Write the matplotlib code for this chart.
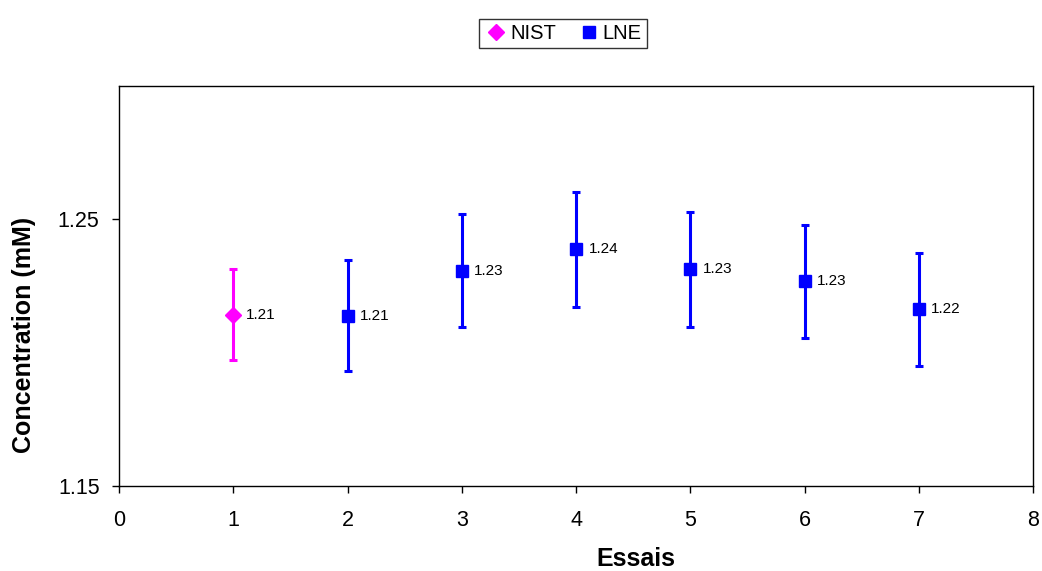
import matplotlib
matplotlib.use("Agg")
import matplotlib.pyplot as plt
from matplotlib.lines import Line2D

plt.rcParams['font.family'] = ['Liberation Sans', 'DejaVu Sans']

nist_x = [1]
nist_y = [1.2143]
nist_err = [0.0169]
nist_labels = ["1.21"]

lne_x = [2, 3, 4, 5, 6, 7]
lne_y = [1.2139, 1.2308, 1.2387, 1.2312, 1.2267, 1.2162]
lne_err = [0.0207, 0.0212, 0.0214, 0.0214, 0.0212, 0.0212]
lne_labels = ["1.21", "1.23", "1.24", "1.23", "1.23", "1.22"]

fig = plt.figure(figsize=(10.42, 5.71), dpi=100)
ax = fig.add_axes([0.1142, 0.1489, 0.8772, 0.7005])

ax.errorbar(nist_x, nist_y, yerr=nist_err, fmt='D', color='#FF00FF', ms=8,
            elinewidth=2.2, capsize=3, capthick=2.2, zorder=3)
ax.errorbar(lne_x, lne_y, yerr=lne_err, fmt='s', color='#0000FF', ms=8,
            elinewidth=2.2, capsize=3, capthick=2.2, zorder=3)

for x, y, t in zip(nist_x, nist_y, nist_labels):
    ax.annotate(t, (x, y), xytext=(9, 0), textcoords='offset points',
                va='center', ha='left', fontsize=11)
for x, y, t in zip(lne_x, lne_y, lne_labels):
    ax.annotate(t, (x, y), xytext=(9, 0), textcoords='offset points',
                va='center', ha='left', fontsize=11)

ax.set_xlim(0, 8)
ax.set_ylim(1.15, 1.30)
ax.set_xticks(range(0, 9))
ax.set_yticks([1.15, 1.25])
ax.set_yticklabels(["1.15", "1.25"])
ax.tick_params(direction='out', length=5, labelsize=15.5, width=1)
ax.tick_params(axis='x', pad=12)
ax.tick_params(axis='y', pad=9)
for s in ax.spines.values():
    s.set_linewidth(1)
    s.set_color('black')

fig.text(636 / 1042, 1 - 566 / 571, "Essais", fontsize=18, fontweight='bold',
         ha='center', va='baseline')
fig.text(24 / 1042, 1 - 335 / 571, "Concentration (mM)", fontsize=18, fontweight='bold',
         ha='center', va='center', rotation=90)

handles = [Line2D([], [], marker='D', color='#FF00FF', ls='none', ms=8),
           Line2D([], [], marker='s', color='#0000FF', ls='none', ms=8)]
leg = fig.legend(handles, ["NIST", "LNE"], loc='center', bbox_to_anchor=(0.5403, 0.9413),
                 ncol=2, fontsize=14.5, frameon=True, fancybox=False, edgecolor='black',
                 handletextpad=0.1, columnspacing=1.0, borderpad=0.25, handlelength=1.2)
leg.get_frame().set_linewidth(1)

fig.savefig("out.png", dpi=100)
